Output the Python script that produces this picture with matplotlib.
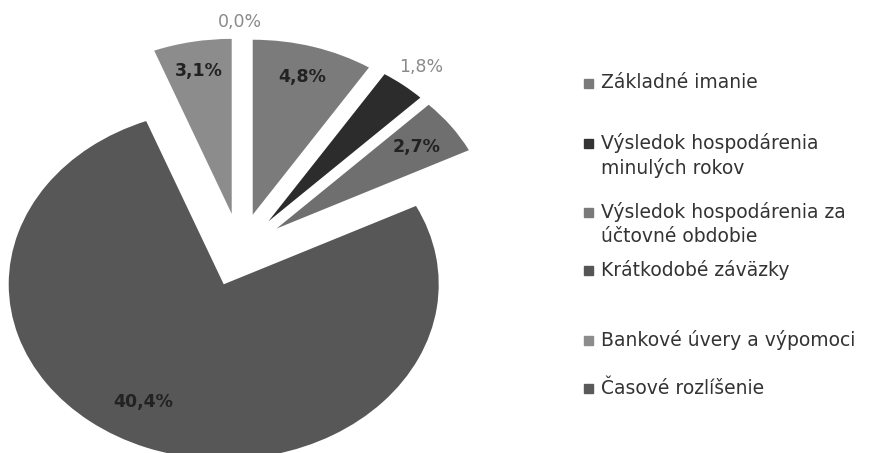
import numpy as np
import matplotlib.pyplot as plt
from matplotlib.patches import Rectangle

# data
categories = ["Základné imanie",
              "Výsledok hospodárenia\nminulých rokov",
              "Výsledok hospodárenia za\núčtovné obdobie",
              "Krátkodobé záväzky",
              "Bankové úvery a výpomoci",
              "Časové rozlíšenie"]
values = [4.8, 1.8, 2.7, 40.4, 3.1, 0.0]

# styles
slice_colors = ["#7b7b7b", "#2c2c2c", "#6f6f6f", "#575757", "#8c8c8c", "#5a5a5a"]
legend_colors = ["#7a7a7a", "#333333", "#7a7a7a", "#555555", "#8c8c8c", "#5a5a5a"]
label_dist = [0.82, 1.13, 0.80, 0.77, 0.83, 1.09]
label_turn = [0, 0, 0, -8, 0, 0]  # degrees, small angular nudges
label_inside = [True, False, True, True, True, False]
legend_line_y = [[83], [143, 168], [212, 236], [270], [340], [388]]  # px from top

W, H = 877, 453
cx, cy = 240, 250      # pie centre in px
rx, ry = 215, 175      # px per data unit

fig = plt.figure(figsize=(W / 100, H / 100), dpi=100)
ax = fig.add_axes([0, 0, 520 / W, 1])

wedges, _ = ax.pie(values, colors=slice_colors, startangle=90, counterclock=False,
                   explode=[0.21] * len(values), wedgeprops=dict(linewidth=0))
ax.set_aspect('auto')
ax.set_xlim((0 - cx) / rx, (520 - cx) / rx)
ax.set_ylim((cy - H) / ry, cy / ry)

for w, v, d, t, inside in zip(wedges, values, label_dist, label_turn, label_inside):
    mid = np.deg2rad((w.theta1 + w.theta2) / 2 + t)
    x = w.center[0] + d * np.cos(mid)
    y = w.center[1] + d * np.sin(mid)
    txt = f"{v:.1f}%".replace('.', ',')
    if inside:
        ax.text(x, y, txt, ha='center', va='center', fontsize=12.5, fontweight='bold', color='#222222')
    else:
        ax.text(x, y, txt, ha='center', va='center', fontsize=12.5, color='#8a8a8a')

# legend drawn by hand
for lab, col, ys in zip(categories, legend_colors, legend_line_y):
    y0 = 1 - ys[0] / H
    fig.patches.append(Rectangle((584 / W, y0 - 4.5 / H), 9 / W, 9 / H,
                                 transform=fig.transFigure, color=col))
    for line, yy in zip(lab.split("\n"), ys):
        fig.text(601 / W, 1 - yy / H, line, ha='left', va='center', fontsize=13.5, color='#333333')

fig.savefig("out.png", dpi=100)
